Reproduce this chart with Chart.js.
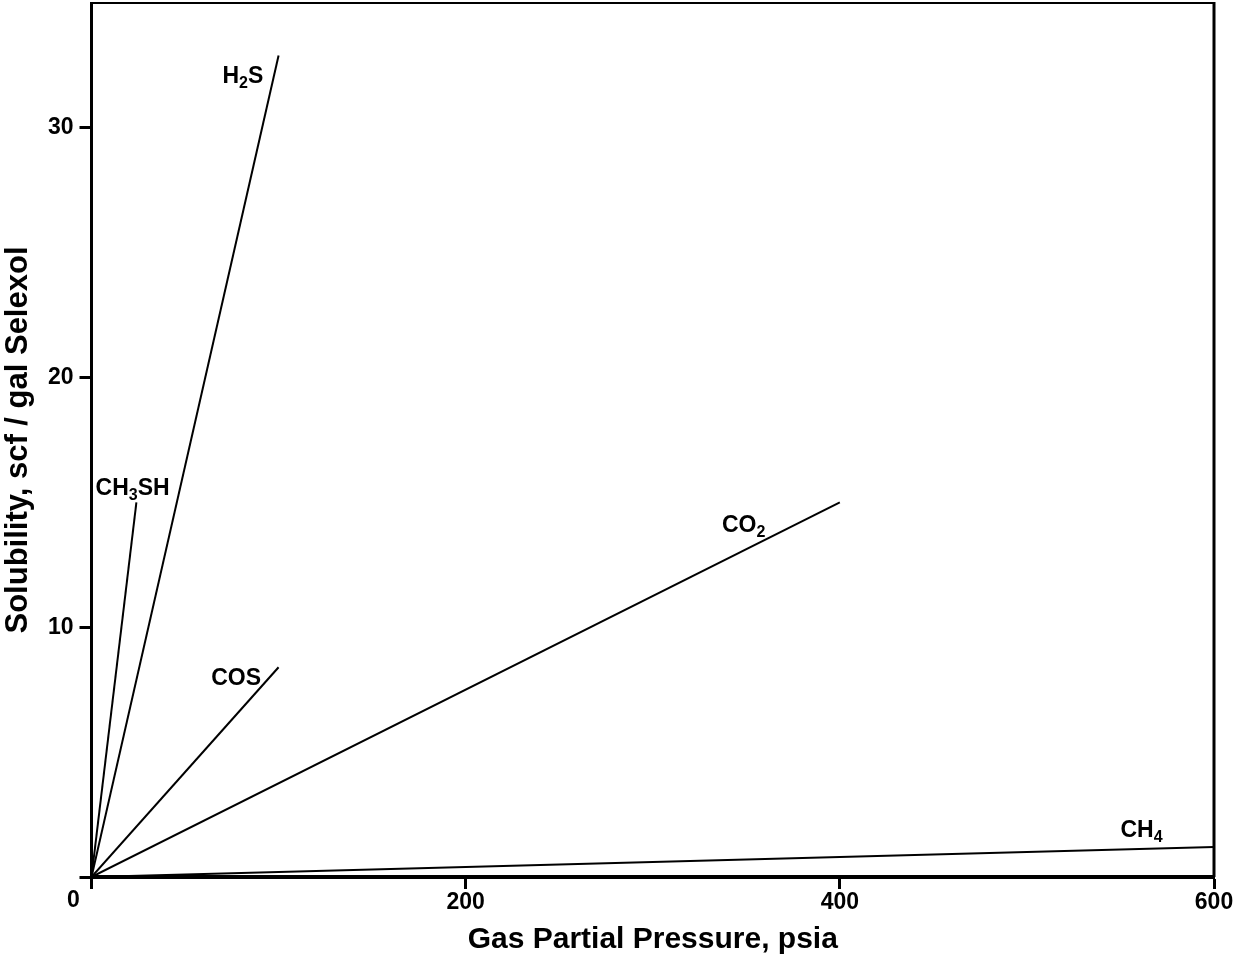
<!DOCTYPE html>
<html>
<head>
<meta charset="utf-8">
<title>Gas solubility in Selexol</title>
<script src="https://cdn.jsdelivr.net/npm/chart.js@4.4.1/dist/chart.umd.min.js"></script>
<style>
  html, body { margin: 0; padding: 0; background: #fff; }
  #wrap { width: 1235px; height: 958px; }
</style>
</head>
<body>
<div id="wrap"><canvas id="solChart" width="1235" height="958"></canvas></div>
<script>
// ── Data: straight-line solubility, from the origin to the end point ──
// '_' marks the next character as a subscript
const gases = ['H_2S', 'CH_3SH', 'COS', 'CO_2', 'CH_4'];
const endPressure = [100, 24, 100, 400, 600];          // psia
const endSolubility = [32.9, 15.0, 8.4, 15.0, 1.2];    // scf / gal
const xTicks = [0, 200, 400, 600];
const yTicks = [0, 10, 20, 30];

// where each gas name sits (data units, left end of text baseline)
const nameAtX = [70, 2.2, 64, 337, 550];
const nameAtY = [31.8, 15.3, 7.7, 13.8, 1.6];

const FONT = "'Liberation Sans', Arial, Helvetica, sans-serif";
const BLACK = '#000';

Chart.defaults.font.family = FONT;
Chart.defaults.color = BLACK;

// ── Formula text with subscripts ──
function drawFormula(ctx, text, px, py, size) {
  let cx = px;
  for (let i = 0; i < text.length; i++) {
    let ch = text[i], sub = false;
    if (ch === '_') { ch = text[++i]; sub = true; }
    const fs = sub ? Math.round(size * 0.7) : size;
    ctx.font = `bold ${fs}px ${FONT}`;
    ctx.fillText(ch, cx, sub ? py + size * 0.2 : py);
    cx += ctx.measureText(ch).width;
  }
}

// ── Frame top/right edges, origin label, gas names ──
const extras = {
  id: 'extras',
  afterDraw(chart) {
    const { ctx, chartArea: a, scales: { x, y } } = chart;
    ctx.save();
    ctx.strokeStyle = BLACK;
    ctx.lineWidth = 2;
    ctx.beginPath(); ctx.moveTo(a.left, a.top); ctx.lineTo(a.right, a.top); ctx.stroke();
    ctx.lineWidth = 3;
    ctx.beginPath(); ctx.moveTo(a.right, a.top - 1); ctx.lineTo(a.right, a.bottom); ctx.stroke();

    ctx.fillStyle = BLACK;
    ctx.font = `bold 23px ${FONT}`;
    ctx.textAlign = 'center';
    ctx.textBaseline = 'middle';
    ctx.fillText(String(xTicks[0]), x.getPixelForValue(xTicks[0]) - 18, y.getPixelForValue(0) + 24);

    ctx.textAlign = 'left';
    ctx.textBaseline = 'alphabetic';
    gases.forEach((g, i) => {
      drawFormula(ctx, g, x.getPixelForValue(nameAtX[i]), y.getPixelForValue(nameAtY[i]), 23);
    });
    ctx.restore();
  }
};

new Chart(document.getElementById('solChart'), {
  type: 'line',
  data: {
    datasets: gases.map((g, i) => ({
      label: g.replace('_', ''),
      data: [{ x: 0, y: 0 }, { x: endPressure[i], y: endSolubility[i] }],
      borderColor: BLACK,
      borderWidth: 2,
      pointRadius: 0,
      tension: 0,
    }))
  },
  options: {
    responsive: false,
    animation: false,
    devicePixelRatio: 1,
    layout: { padding: { top: 3, right: 21, left: 0, bottom: 0 } },
    plugins: { legend: { display: false }, tooltip: { enabled: false } },
    scales: {
      x: {
        type: 'linear',
        min: 0, max: 600,
        afterBuildTicks: s => { s.ticks = xTicks.map(v => ({ value: v })); },
        afterFit: s => { s.height = 81; s.paddingLeft = 0; s.paddingRight = 0; },
        ticks: {
          font: { size: 23, weight: 'bold' },
          padding: 0,
          maxRotation: 0,
          callback: v => (v === 0 ? '' : v),
        },
        grid: { drawOnChartArea: false, drawTicks: true, tickLength: 12, tickWidth: 3, tickColor: BLACK },
        border: { width: 4, color: BLACK },
        title: {
          display: true,
          text: 'Gas Partial Pressure, psia',
          font: { size: 30, weight: 'bold' },
          padding: { top: 0, bottom: 0 },
        },
      },
      y: {
        type: 'linear',
        min: 0, max: 35,
        afterBuildTicks: s => { s.ticks = yTicks.map(v => ({ value: v })); },
        afterFit: s => { s.width = 91.5; s.paddingTop = 0; s.paddingBottom = 0; },
        ticks: {
          font: { size: 23, weight: 'bold' },
          padding: 6,
          callback: v => (v === 0 ? '' : v),
        },
        grid: { drawOnChartArea: false, drawTicks: true, tickLength: 12, tickWidth: 3, tickColor: BLACK },
        border: { width: 3, color: BLACK },
        title: {
          display: true,
          text: 'Solubility, scf / gal Selexol',
          font: { size: 31, weight: 'bold' },
          padding: { top: 0, bottom: 0 },
        },
      },
    },
  },
  plugins: [extras],
});
</script>
</body>
</html>
